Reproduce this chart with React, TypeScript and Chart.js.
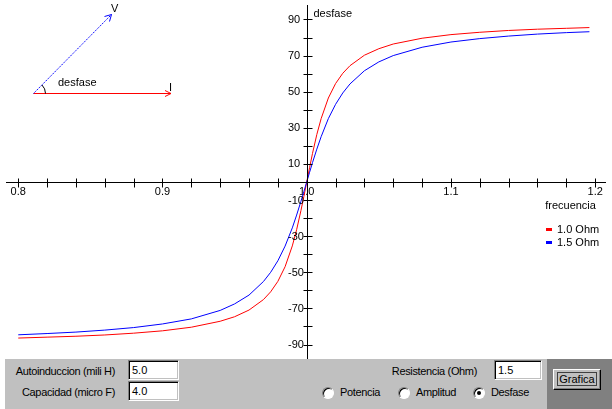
import React, { useEffect, useRef } from "react";
import { Chart, registerables } from "chart.js";

Chart.register(...registerables);

// ---- data ----
const frequencies = [
  0.8, 0.82, 0.84, 0.86, 0.88, 0.9, 0.92, 0.94, 0.95, 0.96, 0.97, 0.975, 0.98,
  0.985, 0.99, 0.993, 0.996, 0.998, 1.0, 1.002, 1.004, 1.007, 1.01, 1.015, 1.02,
  1.025, 1.03, 1.04, 1.05, 1.06, 1.08, 1.1, 1.12, 1.14, 1.16, 1.18, 1.196,
];
const desfaseR10 = [
  -86.4, -85.9, -85.4, -84.7, -83.7, -82.4, -80.4, -77.1, -74.6, -70.9, -65.1,
  -60.8, -55.0, -46.9, -35.4, -26.4, -15.8, -8.1, 0, 8.0, 15.8, 26.3, 35.1, 46.5,
  54.5, 60.2, 64.4, 70.2, 73.8, 76.4, 79.6, 81.6, 82.9, 83.9, 84.6, 85.1, 85.5,
];
const desfaseR15 = [
  -84.6, -83.9, -83.1, -82.0, -80.6, -78.6, -75.8, -71.1, -67.5, -62.6, -55.1,
  -50.0, -43.6, -35.5, -25.4, -18.3, -10.7, -5.4, 0, 5.4, 10.7, 18.2, 25.1, 35.1,
  43.0, 49.3, 54.3, 61.6, 66.5, 70.0, 74.6, 77.5, 79.4, 80.8, 81.9, 82.7, 83.2,
];
const seriesLabels = ["1.0 Ohm", "1.5 Ohm"];
const seriesColors = ["#ff0000", "#0000ff"];

const xTickValues = [
  0.8, 0.82, 0.84, 0.86, 0.88, 0.9, 0.92, 0.94, 0.96, 0.98, 1.0, 1.02, 1.04,
  1.06, 1.08, 1.1, 1.12, 1.14, 1.16, 1.18, 1.2,
];
const xTickLabels = ["0.8", "0.9", "1.0", "1.1", "1.2"];
const yTickValues = [
  -90, -80, -70, -60, -50, -40, -30, -20, -10, 10, 20, 30, 40, 50, 60, 70, 80, 90,
];
const yTickLabels = ["-90", "-70", "-50", "-30", "-10", "10", "30", "50", "70", "90"];

const xTitle = "frecuencia";
const yTitle = "desfase";

const FONT_FAMILY = '"Liberation Sans", Arial, sans-serif';
const FONT = "11px " + FONT_FAMILY;

const overlayPlugin = {
  id: "overlay",
  afterDraw(chart: any) {
    const ctx = chart.ctx as CanvasRenderingContext2D;
    const xs = chart.scales.x;
    const ys = chart.scales.y;
    const area = chart.chartArea;
    const x0 = Math.round(xs.getPixelForValue(1.0)) + 0.5;
    const y0 = Math.round(ys.getPixelForValue(0)) + 0.5;
    ctx.save();
    ctx.strokeStyle = "#000";
    ctx.lineWidth = 1;
    ctx.beginPath();
    ctx.moveTo(area.left, y0);
    ctx.lineTo(area.right, y0);
    ctx.moveTo(x0, area.top);
    ctx.lineTo(x0, area.bottom);
    // tick marks crossing the axes
    xs.ticks.forEach((t: any) => {
      if (Math.abs(t.value - 1.0) < 1e-9) return;
      const px = Math.round(xs.getPixelForValue(t.value)) + 0.5;
      ctx.moveTo(px, y0 - 4);
      ctx.lineTo(px, y0 + 5);
    });
    ys.ticks.forEach((t: any) => {
      const py = Math.round(ys.getPixelForValue(t.value)) + 0.5;
      ctx.moveTo(x0 - 4, py);
      ctx.lineTo(x0 + 5, py);
    });
    ctx.stroke();

    // y tick labels (left aligned, left of the axis)
    ctx.fillStyle = "#000";
    ctx.font = FONT;
    ctx.textAlign = "left";
    ctx.textBaseline = "middle";
    yTickLabels.forEach((lab) => {
      const py = ys.getPixelForValue(parseFloat(lab));
      ctx.fillText(lab, x0 - 19.5, py + 0.5);
    });

    // axis titles
    ctx.fillText(yTitle, x0 + 6, 14);
    ctx.fillText(xTitle, xs.getPixelForValue(1.2) - 50, y0 + 23);

    // legend
    seriesLabels.forEach((lab, i) => {
      const ly = y0 + 47 + i * 13;
      ctx.fillStyle = seriesColors[i];
      ctx.fillRect(546, ly - 1.5, 6, 3);
      ctx.fillStyle = "#000";
      ctx.fillText(lab, 557, ly);
    });

    // phasor diagram
    const ox = 33.5, oy = 93.5;
    ctx.strokeStyle = "#ff0000";
    ctx.setLineDash([]);
    ctx.beginPath();
    ctx.moveTo(ox, oy);
    ctx.lineTo(171, oy);
    ctx.moveTo(171, oy);
    ctx.lineTo(165, oy - 3);
    ctx.moveTo(171, oy);
    ctx.lineTo(165, oy + 3);
    ctx.stroke();
    ctx.strokeStyle = "#0000ff";
    ctx.setLineDash([1.5, 1]);
    ctx.beginPath();
    ctx.moveTo(ox, oy);
    ctx.lineTo(111.5, 14.5);
    ctx.stroke();
    ctx.setLineDash([]);
    ctx.beginPath();
    ctx.moveTo(111.5, 14.5);
    ctx.lineTo(104.5, 16.5);
    ctx.moveTo(111.5, 14.5);
    ctx.lineTo(109.5, 21.5);
    ctx.stroke();
    ctx.strokeStyle = "#000";
    ctx.beginPath();
    ctx.arc(ox, oy, 12, -Math.atan2(79, 78), 0);
    ctx.stroke();
    ctx.fillStyle = "#000";
    ctx.textBaseline = "middle";
    ctx.fillText("desfase", 58, 83);
    ctx.fillText("V", 111, 9);
    ctx.fillText("I", 169, 88);
    ctx.restore();
  },
};

function ChartCanvas() {
  const ref = useRef<HTMLCanvasElement>(null);
  useEffect(() => {
    if (!ref.current) return;
    const chart = new Chart(ref.current, {
      type: "line",
      data: {
        datasets: [
          {
            label: seriesLabels[0],
            data: frequencies.map((f, i) => ({ x: f, y: desfaseR10[i] })),
            borderColor: seriesColors[0],
            backgroundColor: seriesColors[0],
            borderWidth: 1,
            pointRadius: 0,
            tension: 0,
            order: 2,
          },
          {
            label: seriesLabels[1],
            data: frequencies.map((f, i) => ({ x: f, y: desfaseR15[i] })),
            borderColor: seriesColors[1],
            backgroundColor: seriesColors[1],
            borderWidth: 1,
            pointRadius: 0,
            tension: 0,
            order: 1,
          },
        ],
      },
      options: {
        animation: false,
        responsive: false,
        maintainAspectRatio: false,
        devicePixelRatio: 1,
        layout: { padding: { left: 6, right: 6, top: 5, bottom: 0 } },
        plugins: { legend: { display: false }, tooltip: { enabled: false } },
        scales: {
          x: {
            type: "linear",
            position: { y: 0 } as any,
            min: 0.7915,
            max: 1.2075,
            afterBuildTicks: (scale: any) => {
              scale.ticks = xTickValues.map((v) => ({ value: v }));
            },
            grid: { display: false, drawTicks: false, tickLength: 0 },
            border: { display: false },
            ticks: {
              autoSkip: false,
              maxRotation: 0,
              padding: 3,
              color: "#000",
              font: { family: FONT_FAMILY, size: 11 },
              callback: (v: any) => {
                const s = Number(v).toFixed(1);
                return Math.abs(Number(v) - parseFloat(s)) < 1e-6 && xTickLabels.includes(s) ? s : "";
              },
            },
          },
          y: {
            type: "linear",
            position: { x: 1.0 } as any,
            min: -98,
            max: 98,
            afterBuildTicks: (scale: any) => {
              scale.ticks = yTickValues.map((v) => ({ value: v }));
            },
            grid: { display: false, drawTicks: false, tickLength: 0 },
            border: { display: false },
            ticks: { display: false },
          },
        },
      },
      plugins: [overlayPlugin],
    });
    return () => chart.destroy();
  }, []);
  return <canvas ref={ref} width={612} height={359} style={{ display: "block", width: 612, height: 359 }} />;
}

const txt: React.CSSProperties = {
  position: "absolute",
  font: FONT,
  letterSpacing: "-0.35px",
  color: "#000",
  whiteSpace: "nowrap",
  lineHeight: "15px",
  height: 15,
};

function TextBox({ left, top, width, height, value }: any) {
  return (
    <div
      style={{
        position: "absolute",
        left,
        top,
        width,
        height,
        boxSizing: "border-box",
        background: "#fff",
        border: "1px solid",
        borderColor: "#808080 #ffffff #ffffff #808080",
        boxShadow: "inset 1px 1px 0 #000, inset -1px -1px 0 #c0c0c0",
        font: FONT,
        lineHeight: height - 2 + "px",
        paddingLeft: 3,
        color: "#000",
      }}
    >
      {value}
    </div>
  );
}

function Radio({ cx, cy, checked, label }: any) {
  return (
    <>
      <div
        style={{
          position: "absolute",
          left: cx - 6,
          top: cy - 6,
          width: 12,
          height: 12,
          boxSizing: "border-box",
          borderRadius: "50%",
          background: "#fff",
          border: "1px solid",
          borderColor: "#808080 #ffffff #ffffff #808080",
          boxShadow: "inset 1px 1px 0 #000",
        }}
      >
        {checked ? (
          <div
            style={{
              position: "absolute",
              left: 3,
              top: 3,
              width: 4,
              height: 4,
              borderRadius: "50%",
              background: "#000",
            }}
          />
        ) : null}
      </div>
      <div style={{ ...txt, left: cx + 12, top: cy - 8 }}>{label}</div>
    </>
  );
}

export default function App() {
  useEffect(() => {
    document.body.style.margin = "0";
  }, []);
  return (
    <div style={{ position: "relative", width: 612, height: 409, background: "#fff", overflow: "hidden" }}>
      <ChartCanvas />
      <div style={{ position: "absolute", left: 5, top: 359, width: 542, height: 50, background: "#c0c0c0" }} />
      <div style={{ position: "absolute", left: 547, top: 359, width: 65, height: 50, background: "#808080" }} />
      <div style={{ ...txt, left: 0, width: 115, textAlign: "right", top: 364 }}>Autoinduccion (mili H)</div>
      <div style={{ ...txt, left: 0, width: 115, textAlign: "right", top: 385 }}>Capacidad (micro F)</div>
      <TextBox left={128} top={360} width={51} height={20} value="5.0" />
      <TextBox left={128} top={381} width={51} height={20} value="4.0" />
      <div style={{ ...txt, left: 300, width: 177, textAlign: "right", top: 364 }}>Resistencia (Ohm)</div>
      <TextBox left={494} top={360} width={48} height={20} value="1.5" />
      <Radio cx={328} cy={393} checked={false} label="Potencia" />
      <Radio cx={404} cy={393} checked={false} label="Amplitud" />
      <Radio cx={479} cy={393} checked={true} label="Desfase" />
      <div
        style={{
          position: "absolute",
          left: 553,
          top: 369,
          width: 48,
          height: 21,
          boxSizing: "border-box",
          background: "#c0c0c0",
          border: "1px solid",
          borderColor: "#ffffff #000000 #000000 #ffffff",
          boxShadow: "inset -1px -1px 0 #808080",
        }}
      >
        <div
          style={{
            position: "absolute",
            left: 3,
            top: 2,
            right: 3,
            bottom: 3,
            border: "1px solid #404040",
            font: "11px " + FONT_FAMILY,
            lineHeight: "13px",
            textAlign: "center",
            color: "#000",
            whiteSpace: "nowrap",
          }}
        >
          Grafica
        </div>
      </div>
    </div>
  );
}
